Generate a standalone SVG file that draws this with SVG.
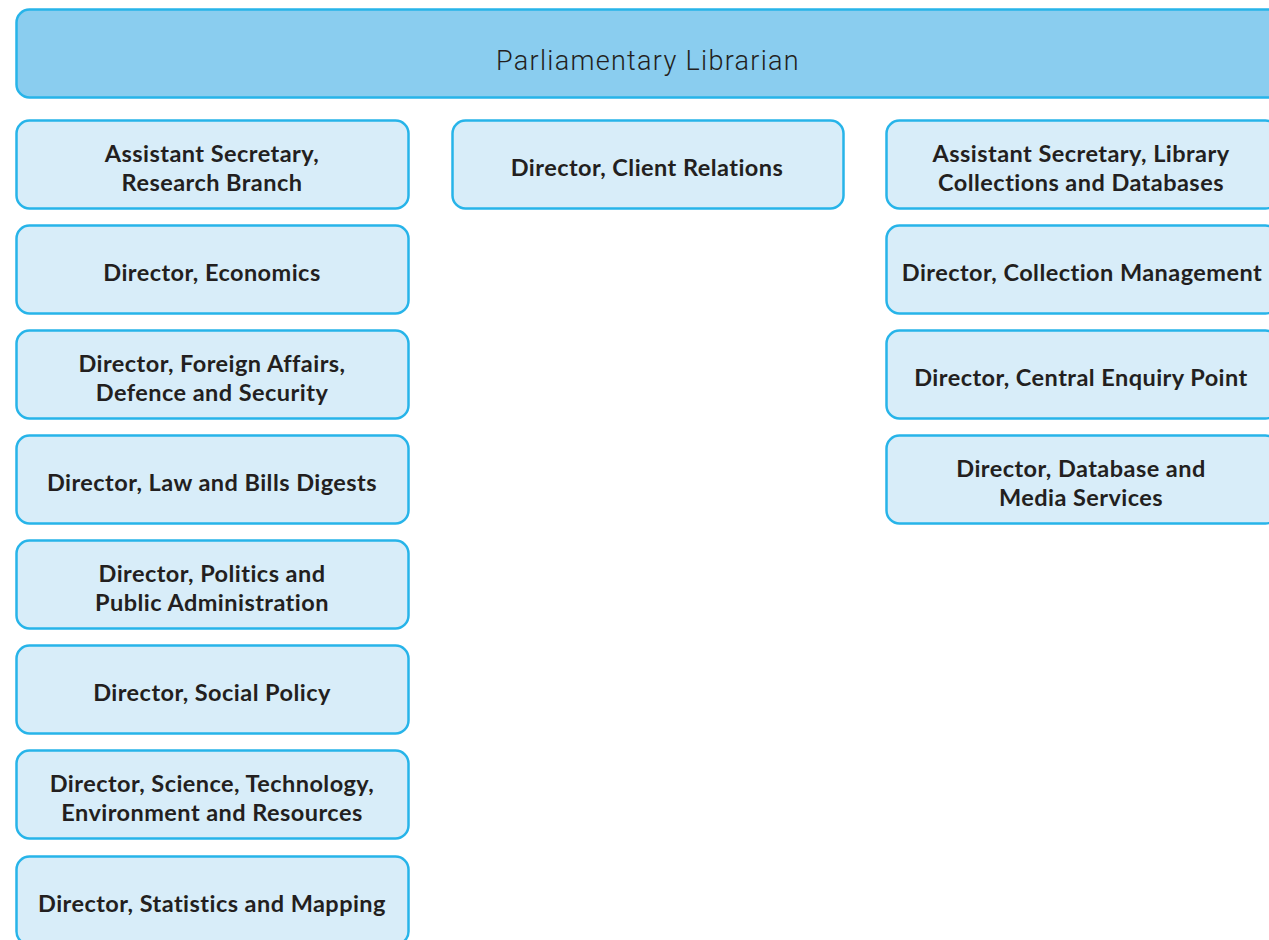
<svg xmlns="http://www.w3.org/2000/svg" width="1269" height="940" viewBox="0 0 1269 940">
<style>
.top{fill:#8acdef;stroke:#27b4e9;stroke-width:2.5}
.box{fill:#d8edf9;stroke:#27b4e9;stroke-width:2.5}
.t{font-family:Lato,"Open Sans",sans-serif;font-weight:700;font-size:23.5px;fill:#231f20;text-anchor:middle;letter-spacing:0.45px}
.title{font-family:Roboto,"Open Sans",sans-serif;font-weight:300;font-size:27px;fill:#231f20;text-anchor:middle;letter-spacing:1.3px}
</style>
<rect width="1269" height="940" fill="#ffffff"/>
<g id="connectors"></g>
<g id="parliamentary-librarian"><rect class="top" x="16.5" y="9.5" width="1270" height="88" rx="13"/><text class="title" x="648" y="70">Parliamentary Librarian</text></g>
<g id="as-research"><rect class="box" x="16.5" y="120.5" width="392" height="88" rx="13"/><text class="t" x="212" y="162">Assistant Secretary,</text><text class="t" x="212" y="191">Research Branch</text></g>
<g id="dir-economics"><rect class="box" x="16.5" y="225.5" width="392" height="88" rx="13"/><text class="t" x="212" y="281">Director, Economics</text></g>
<g id="dir-foreign"><rect class="box" x="16.5" y="330.5" width="392" height="88" rx="13"/><text class="t" x="212" y="372">Director, Foreign Affairs,</text><text class="t" x="212" y="401">Defence and Security</text></g>
<g id="dir-law"><rect class="box" x="16.5" y="435.5" width="392" height="88" rx="13"/><text class="t" x="212" y="491">Director, Law and Bills Digests</text></g>
<g id="dir-politics"><rect class="box" x="16.5" y="540.5" width="392" height="88" rx="13"/><text class="t" x="212" y="582">Director, Politics and</text><text class="t" x="212" y="611">Public Administration</text></g>
<g id="dir-social"><rect class="box" x="16.5" y="645.5" width="392" height="88" rx="13"/><text class="t" x="212" y="701">Director, Social Policy</text></g>
<g id="dir-science"><rect class="box" x="16.5" y="750.5" width="392" height="88" rx="13"/><text class="t" x="212" y="792">Director, Science, Technology,</text><text class="t" x="212" y="821">Environment and Resources</text></g>
<g id="dir-statistics"><rect class="box" x="16.5" y="856.5" width="392" height="88" rx="13"/><text class="t" x="212" y="912">Director, Statistics and Mapping</text></g>
<g id="dir-client"><rect class="box" x="452.5" y="120.5" width="391" height="88" rx="13"/><text class="t" x="647" y="176">Director, Client Relations</text></g>
<g id="as-library"><rect class="box" x="886.5" y="120.5" width="392" height="88" rx="13"/><text class="t" x="1081" y="162">Assistant Secretary, Library</text><text class="t" x="1081" y="191">Collections and Databases</text></g>
<g id="dir-collection"><rect class="box" x="886.5" y="225.5" width="392" height="88" rx="13"/><text class="t" x="1082" y="281">Director, Collection Management</text></g>
<g id="dir-enquiry"><rect class="box" x="886.5" y="330.5" width="392" height="88" rx="13"/><text class="t" x="1081" y="386">Director, Central Enquiry Point</text></g>
<g id="dir-database"><rect class="box" x="886.5" y="435.5" width="392" height="88" rx="13"/><text class="t" x="1081" y="477">Director, Database and</text><text class="t" x="1081" y="506">Media Services</text></g>
</svg>
